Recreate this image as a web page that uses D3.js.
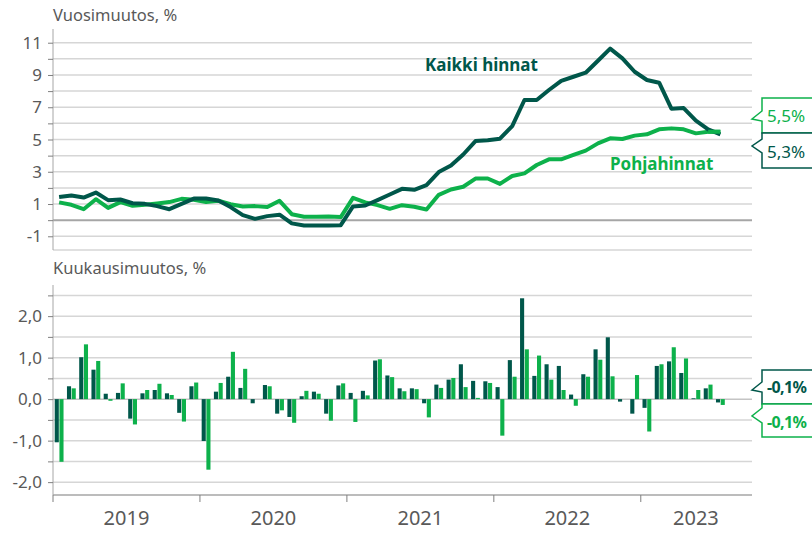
<!DOCTYPE html>
<html>
<head>
    <meta charset="utf-8">
    <title>Inflaatio</title>
    <script src="https://cdn.jsdelivr.net/npm/d3@7/dist/d3.min.js"></script>
    <style>
        * {
            margin: 0;
            padding: 0;
        }

        body {
            background: #fff;
            overflow: hidden;
        }

        text {
            font-family: "Noto Sans", "Open Sans", sans-serif;
        }
    </style>
</head>
<body>
<div id="chart"></div>
<script>
    // kuukaudet tammi 2019 - heinä 2023, akseli jatkuu syyskuuhun 2023
    const years = ['2019', '2020', '2021', '2022', '2023']
    const monthCount = 57

    // vuosimuutos, %
    const kaikkiVuosi = [1.43, 1.53, 1.40, 1.71, 1.24, 1.28, 1.05, 1.01, 0.87, 0.68, 1.01, 1.34,
        1.34, 1.22, 0.81, 0.31, 0.08, 0.25, 0.34, -0.20, -0.33, -0.33, -0.33, -0.31,
        0.85, 0.91, 1.24, 1.59, 1.94, 1.88, 2.17, 2.98, 3.39, 4.07, 4.90, 4.96,
        5.05, 5.83, 7.45, 7.45, 8.07, 8.64, 8.89, 9.14, 9.88, 10.63, 10.03, 9.20,
        8.69, 8.52, 6.91, 6.95, 6.17, 5.63, 5.32]
    const pohjaVuosi = [1.10, 0.95, 0.68, 1.30, 0.76, 1.12, 0.89, 0.95, 1.03, 1.12, 1.32, 1.26,
        1.12, 1.20, 0.99, 0.85, 0.87, 0.81, 1.20, 0.37, 0.21, 0.21, 0.23, 0.19,
        1.38, 1.10, 0.93, 0.70, 0.93, 0.83, 0.66, 1.57, 1.90, 2.07, 2.58, 2.58,
        2.25, 2.74, 2.90, 3.42, 3.77, 3.77, 4.04, 4.31, 4.76, 5.07, 5.03, 5.24,
        5.32, 5.63, 5.69, 5.63, 5.38, 5.48, 5.48]

    // kuukausimuutos, %
    const kaikkiKk = [-1.04, 0.31, 1.01, 0.71, 0.13, 0.15, -0.47, 0.14, 0.22, 0.14, -0.33, 0.31,
        -1.01, 0.18, 0.54, 0.27, -0.10, 0.34, -0.35, -0.43, 0.07, 0.18, -0.35, 0.33,
        0.15, 0.20, 0.93, 0.57, 0.26, 0.26, -0.10, 0.35, 0.47, 0.84, 0.44, 0.43,
        0.29, 0.94, 2.43, 0.56, 0.84, 0.80, 0.11, 0.60, 1.20, 1.49, -0.06, -0.35,
        -0.21, 0.80, 0.91, 0.63, 0.02, 0.26, -0.08]
    const pohjaKk = [-1.51, 0.26, 1.32, 0.92, -0.04, 0.38, -0.61, 0.22, 0.37, 0.10, -0.54, 0.40,
        -1.70, 0.39, 1.14, 0.73, 0.0, 0.31, -0.27, -0.57, 0.20, 0.13, -0.52, 0.38,
        -0.55, 0.09, 0.96, 0.53, 0.19, 0.24, -0.44, 0.27, 0.51, 0.29, 0.03, 0.39,
        -0.88, 0.54, 1.20, 1.05, 0.47, 0.22, -0.16, 0.54, 0.95, 0.55, 0.0, 0.58,
        -0.78, 0.84, 1.25, 0.98, 0.22, 0.35, -0.14]

    const topTicks = [-1, 0, 1, 2, 3, 4, 5, 6, 7, 8, 9, 10, 11]
    const topLabels = [-1, 1, 3, 5, 7, 9, 11]
    const botTicks = [-2, -1.5, -1, -0.5, 0, 0.5, 1, 1.5, 2, 2.5]
    const botLabels = [-2, -1, 0, 1, 2]

    const dark = '#00574a'
    const light = '#0db14b'
    const grid = '#d6d6d6'
    const axisCol = '#a6a6a6'
    const textCol = '#595959'

    const W = 812, H = 533
    const left = 53, right = 751

    const svg = d3.select('#chart').append('svg')
        .attr('width', W).attr('height', H)

    const months = d3.range(monthCount)
    const x = d3.scaleBand().domain(months).range([left, right])
        .paddingInner(0.18).paddingOuter(0.09)
    const step = x.step()
    const cx = m => left + step * (m + 0.5)
    const x2 = d3.scaleBand().domain(['k', 'p']).range([0, x.bandwidth()]).padding(0.13)

    // pilkku desimaalina, tavallinen tavuviiva miinuksena
    const fmt = v => d3.format('.1f')(v).replace('.', ',').replace('\u2212', '-')

    // ---------- ylä paneeli ----------
    const yT = d3.scaleLinear().domain([-1.85, 11.85]).range([250, 29])

    const gT = svg.append('g')
    gT.selectAll('line.grid').data(topTicks).enter().append('line')
        .attr('x1', left).attr('x2', 752)
        .attr('y1', d => yT(d)).attr('y2', d => yT(d))
        .attr('stroke', d => d == 0 ? axisCol : grid)
        .attr('stroke-width', d => d == 0 ? 2 : 1.5)
    gT.append('line')
        .attr('x1', left).attr('x2', 752).attr('y1', 250).attr('y2', 250)
        .attr('stroke', grid).attr('stroke-width', 1.5)

    const axT = d3.axisLeft(yT).tickValues(topTicks).tickSize(5).tickFormat('')
    const axTg = gT.append('g').attr('transform', 'translate(' + left + ',0)').call(axT)
    axTg.select('.domain').attr('stroke', axisCol).attr('d', 'M0,250V29')
    axTg.selectAll('.tick line').attr('stroke', '#7f7f7f')

    gT.selectAll('text.lab').data(topLabels).enter().append('text')
        .attr('x', 42).attr('y', d => yT(d) + 6)
        .attr('text-anchor', 'end').attr('fill', textCol)
        .style('font-size', '17px').text(d => d)

    svg.append('text').attr('x', 53).attr('y', 21).attr('fill', textCol)
        .style('font-size', '16.5px').text('Vuosimuutos, %')

    const line = d3.line().x((d, i) => cx(i)).y(d => yT(d))
    gT.append('path').datum(pohjaVuosi).attr('d', line)
        .attr('fill', 'none').attr('stroke', light).attr('stroke-width', 4)
        .attr('stroke-linejoin', 'round')
    gT.append('path').datum(kaikkiVuosi).attr('d', line)
        .attr('fill', 'none').attr('stroke', dark).attr('stroke-width', 4)
        .attr('stroke-linejoin', 'round')
    // viimeinen pohjapiste näkyy päällä
    gT.append('path').datum(pohjaVuosi.slice(53)).attr('d', d3.line().x((d, i) => cx(53 + i)).y(d => yT(d)))
        .attr('fill', 'none').attr('stroke', light).attr('stroke-width', 4)

    svg.append('text').attr('x', 425).attr('y', 71).attr('fill', dark)
        .style('font-size', '17px').style('font-weight', 'bold').text('Kaikki hinnat')
    svg.append('text').attr('x', 610).attr('y', 170).attr('fill', light)
        .style('font-size', '17px').style('font-weight', 'bold').text('Pohjahinnat')

    // ---------- ala paneeli ----------
    const yB = d3.scaleLinear().domain([-2.31, 2.75]).range([495, 285])
    const gB = svg.append('g')
    gB.selectAll('line.grid').data(botTicks).enter().append('line')
        .attr('x1', left).attr('x2', 752)
        .attr('y1', d => yB(d)).attr('y2', d => yB(d))
        .attr('stroke', d => d == 0 ? '#c4c4c4' : grid)
        .attr('stroke-width', 1.5)

    const axB = d3.axisLeft(yB).tickValues(botTicks).tickSize(5).tickFormat('')
    const axBg = gB.append('g').attr('transform', 'translate(' + left + ',0)').call(axB)
    axBg.select('.domain').attr('stroke', axisCol).attr('d', 'M0,495V285')
    axBg.selectAll('.tick line').attr('stroke', '#7f7f7f')

    gB.selectAll('text.lab').data(botLabels).enter().append('text')
        .attr('x', 42).attr('y', d => yB(d) + 6)
        .attr('text-anchor', 'end').attr('fill', textCol)
        .style('font-size', '17px').text(d => fmt(d))

    svg.append('text').attr('x', 53).attr('y', 274).attr('fill', textCol)
        .style('font-size', '16.5px').text('Kuukausimuutos, %')

    const bars = gB.append('g')
    const series = [{ key: 'k', vals: kaikkiKk, col: dark }, { key: 'p', vals: pohjaKk, col: light }]
    series.forEach(s => {
        bars.selectAll('rect.' + s.key).data(s.vals).enter().append('rect')
            .attr('class', s.key)
            .attr('x', (d, i) => x(i) + x2(s.key))
            .attr('width', x2.bandwidth())
            .attr('y', d => yB(Math.max(0, d)))
            .attr('height', d => Math.abs(yB(d) - yB(0)))
            .attr('fill', s.col)
    })

    // x-akseli
    gB.append('line').attr('x1', left).attr('x2', 752).attr('y1', 495).attr('y2', 495)
        .attr('stroke', axisCol).attr('stroke-width', 1.5)
    gB.selectAll('line.yt').data(years).enter().append('line')
        .attr('x1', (d, i) => x(i * 12) - step * 0.09).attr('x2', (d, i) => x(i * 12) - step * 0.09)
        .attr('y1', 495).attr('y2', 502).attr('stroke', '#7f7f7f')
    gB.selectAll('text.yl').data(years).enter().append('text')
        .attr('x', (d, i) => {
            const a = left + step * i * 12
            const b = Math.min(left + step * (i + 1) * 12, right)
            return (a + b) / 2
        })
        .attr('y', 525).attr('text-anchor', 'middle').attr('fill', textCol)
        .style('font-size', '20px').text(d => d)

    // ---------- selitteet oikealla ----------
    function callout(y0, y1, wa, tip, wb, col, txt, bold, ty) {
        const bx = 762, tx = 752
        const p = 'M' + (W + 5) + ',' + y0 + 'H' + bx + 'V' + wa + 'L' + tx + ',' + tip +
            'L' + bx + ',' + wb + 'V' + y1 + 'H' + (W + 5)
        svg.append('path').attr('d', p + 'Z').attr('fill', '#fff')
            .attr('stroke', col).attr('stroke-width', 1.5)
        svg.append('text').attr('x', 767).attr('y', ty).attr('fill', col)
            .style('font-size', bold ? '16px' : '17px')
            .style('font-weight', bold ? 'bold' : 'normal')
            .style('letter-spacing', bold ? '-0.6px' : '0')
            .text(txt)
    }
    callout(98, 133, 111, 119, 121, light, fmt(pohjaVuosi[54]) + '%', false, 122)
    callout(133, 168, 139, 146, 153, dark, fmt(kaikkiVuosi[54]) + '%', false, 158)
    callout(370, 404, 382, 390, 392, dark, fmt(kaikkiKk[54]) + '%', true, 393)
    callout(404, 437, 408, 416, 423, light, fmt(pohjaKk[54]) + '%', true, 428)
</script>
</body>
</html>
